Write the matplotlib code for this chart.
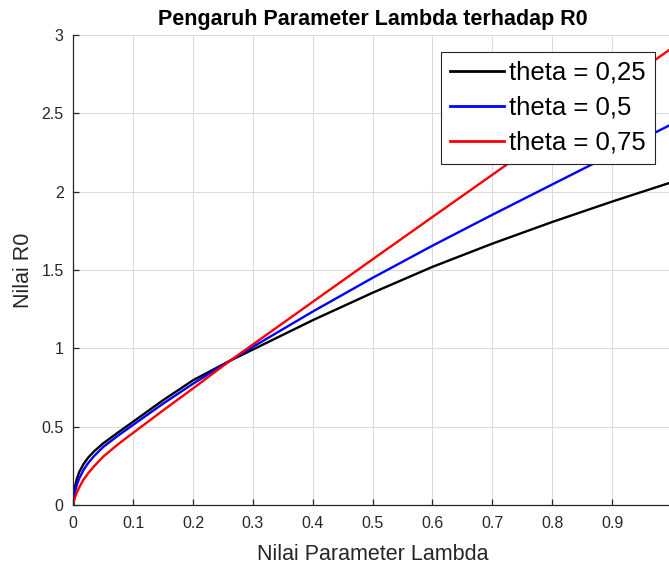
import matplotlib
matplotlib.use("Agg")
import matplotlib.pyplot as plt

plt.rcParams['font.family'] = ['Liberation Sans', 'DejaVu Sans']

lam = [0, 0.001, 0.003, 0.006, 0.01, 0.017, 0.025, 0.035, 0.05, 0.075, 0.1, 0.15, 0.2,
       0.262, 0.3, 0.4, 0.5, 0.6, 0.7, 0.8, 0.9, 1.0]
r0_theta025 = [0, 0.065, 0.12, 0.17, 0.213, 0.262, 0.305, 0.345, 0.395, 0.465, 0.533, 0.67,
               0.797, 0.922, 0.993, 1.18, 1.355, 1.52, 1.668, 1.806, 1.936, 2.06]
r0_theta05 = [0, 0.045, 0.09, 0.132, 0.172, 0.225, 0.27, 0.315, 0.372, 0.445, 0.513, 0.648,
              0.775, 0.922, 1.01, 1.235, 1.45, 1.655, 1.852, 2.045, 2.238, 2.43]
r0_theta075 = [0, 0.025, 0.052, 0.082, 0.115, 0.163, 0.205, 0.25, 0.31, 0.39, 0.462, 0.605,
               0.745, 0.922, 1.025, 1.297, 1.568, 1.838, 2.107, 2.376, 2.645, 2.915]
labels = ['theta = 0,25', 'theta = 0,5', 'theta = 0,75']
colors = ['black', 'blue', 'red']

W, H = 669, 565
fig = plt.figure(figsize=(W / 100, H / 100), dpi=100)
ax = fig.add_axes([73.3 / W, 59.7 / H, 598.6 / W, 470.6 / H])

for y, lab, c in zip([r0_theta025, r0_theta05, r0_theta075], labels, colors):
    ax.plot(lam, y, color=c, lw=1.7, label=lab, solid_joinstyle='round')

ax.set_xlim(0, 1)
ax.set_ylim(0, 3)
ax.set_xticks([0, 0.1, 0.2, 0.3, 0.4, 0.5, 0.6, 0.7, 0.8, 0.9, 1])
ax.set_xticklabels(['0', '0.1', '0.2', '0.3', '0.4', '0.5', '0.6', '0.7', '0.8', '0.9', '1'])
ax.set_yticks([0, 0.5, 1, 1.5, 2, 2.5, 3])
ax.set_yticklabels(['0', '0.5', '1', '1.5', '2', '2.5', '3'])
ax.grid(True, color='#dcdcdc', lw=0.8)
ax.set_axisbelow(True)
for s in ['top', 'right']:
    ax.spines[s].set_visible(False)
for s in ['left', 'bottom']:
    ax.spines[s].set_color('#262626')
    ax.spines[s].set_linewidth(0.9)
ax.tick_params(direction='in', length=4.3, width=0.9, color='#262626',
               labelsize=11.5, labelcolor='#262626', pad=8)
ax.tick_params(axis='y', pad=7)

ax.set_xlabel('Nilai Parameter Lambda', fontsize=15.5, color='#262626', labelpad=9)
ax.set_ylabel('Nilai R0', fontsize=15.5, color='#262626', labelpad=5)
ax.set_title('Pengaruh Parameter Lambda terhadap R0', fontsize=15.5, fontweight='bold',
             color='black', pad=7)

leg = ax.legend(loc='upper right', bbox_to_anchor=(655 / W, 1 - 51.7 / H),
                bbox_transform=fig.transFigure, borderaxespad=0, fontsize=18.5,
                handlelength=2.1, handletextpad=0.22, labelspacing=0.43,
                borderpad=0.35, fancybox=False, framealpha=1, edgecolor='#262626')
leg.get_frame().set_linewidth(0.8)
for l in leg.get_lines():
    l.set_linewidth(2.0)

fig.savefig('out.png', dpi=100)
